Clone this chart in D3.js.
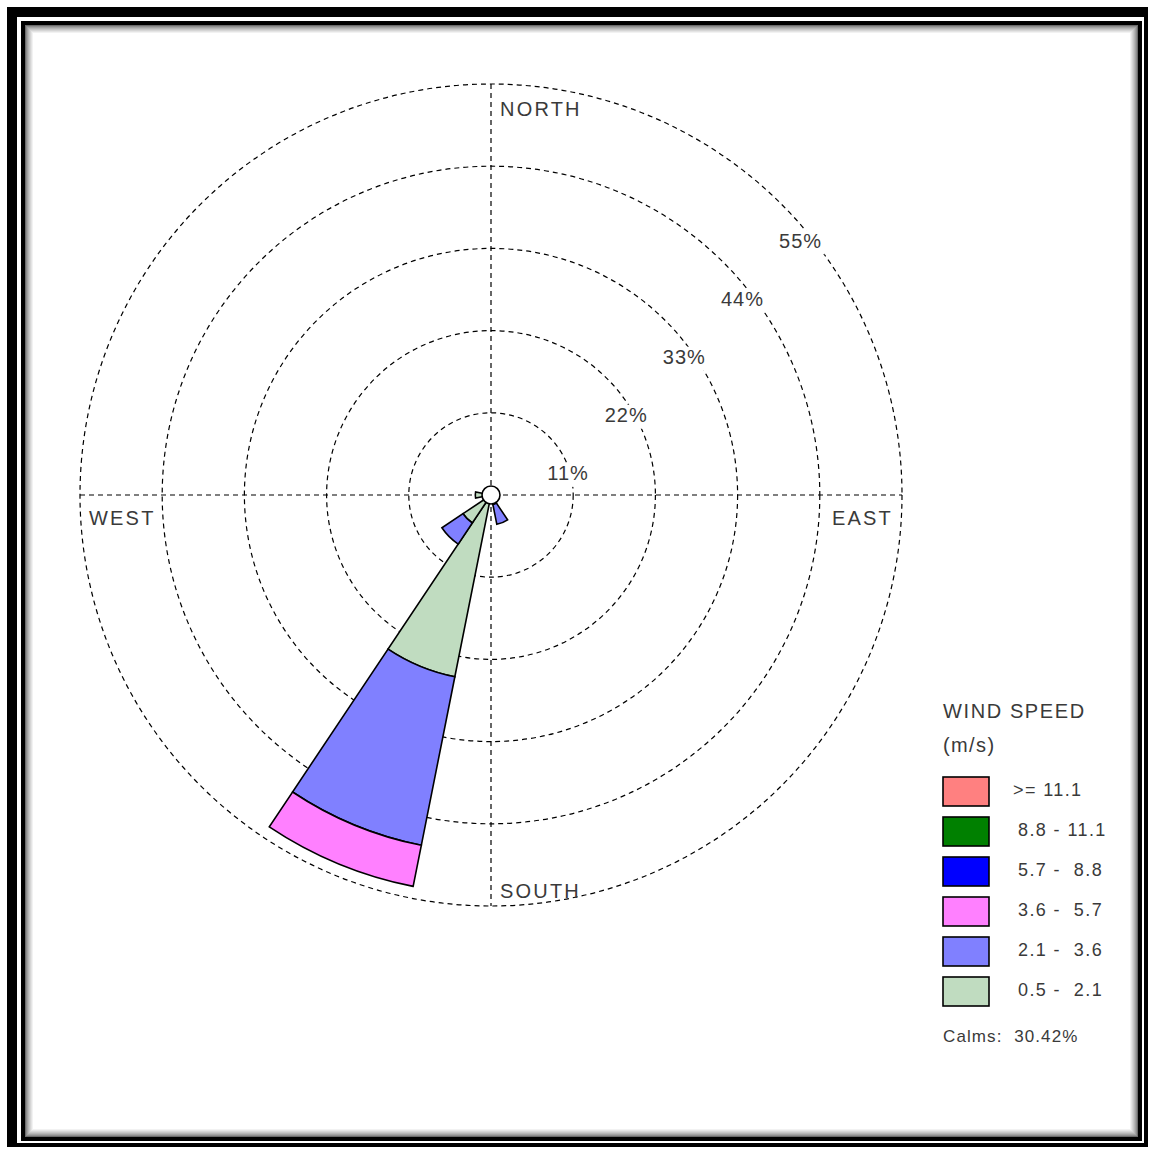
<!DOCTYPE html>
<html>
<head>
<meta charset="utf-8">
<script src="https://cdn.jsdelivr.net/npm/d3@7"></script>
<style>
  html, body { margin: 0; padding: 0; background: #fff; }
  svg { display: block; }
  text { font-family: "Liberation Sans", Arial, sans-serif; fill: #3a3a3a; }
</style>
</head>
<body>
<svg id="rose" width="1150" height="1151"></svg>
<script>
// 16 compass sectors, clockwise from north
const directions = ["N","NNE","NE","ENE","E","ESE","SE","SSE","S","SSW","SW","WSW","W","WNW","NW","NNW"];

// Frequency (%) per sector for each wind speed class
const freq05to21  = [0,0,0,0,0,0,0,1.3,0,24.8,4.5,0,2.1,0,0,0];
const freq21to36  = [0,0,0,0,0,0,0,2.7,0,23.0,3.4,0,0,0,0,0];
const freq36to57  = [0,0,0,0,0,0,0,0,0,5.6,0,0,0,0,0,0];
const freq57to88  = [0,0,0,0,0,0,0,0,0,0,0,0,0,0,0,0];
const freq88to111 = [0,0,0,0,0,0,0,0,0,0,0,0,0,0,0,0];
const freqGe111   = [0,0,0,0,0,0,0,0,0,0,0,0,0,0,0,0];

const speedLabels = [">= 11.1", "8.8 - 11.1", "5.7 -  8.8", "3.6 -  5.7", "2.1 -  3.6", "0.5 -  2.1"];
const speedColors = ["#ff8080", "#008000", "#0000ff", "#ff80ff", "#8080ff", "#c0dcc0"];
const ringTicks = [11, 22, 33, 44, 55];
const compassLabels = ["NORTH", "EAST", "SOUTH", "WEST"];
const calmsPct = 30.42;

const svg = d3.select("#rose");

// ---- frame: thick outer border, thin inner border, soft inner shadow ----
const frame = svg.append("g");
frame.append("rect").attr("x", 7).attr("y", 7).attr("width", 1141).attr("height", 1140).attr("fill", "#000");
frame.append("rect").attr("x", 17).attr("y", 17).attr("width", 1127).attr("height", 1126).attr("fill", "#fff");
frame.append("rect").attr("x", 21).attr("y", 21).attr("width", 1121).attr("height", 1120).attr("fill", "#000");
frame.append("rect").attr("x", 25).attr("y", 25).attr("width", 1113).attr("height", 1112).attr("fill", "#fff");
const shade = d3.range(9);
frame.selectAll("rect.shade").data(shade).join("rect")
  .attr("class", "shade")
  .attr("x", d => 25.5 + d).attr("y", d => 25.5 + d)
  .attr("width", d => 1112 - 2 * d).attr("height", d => 1111 - 2 * d)
  .attr("fill", "none")
  .attr("stroke", d => d3.interpolateRgb("#6a6a6a", "#ffffff")(Math.pow(d / 8, 0.7)))
  .attr("stroke-width", 1);

// ---- polar geometry ----
const cx = 491, cy = 495;
const r = d3.scaleLinear().domain([0, 55]).range([0, 411]);
const sector = 2 * Math.PI / directions.length;

const g = svg.append("g").attr("transform", `translate(${cx},${cy})`);

// dashed rings
g.selectAll("circle.ring").data(ringTicks).join("circle")
  .attr("class", "ring")
  .attr("r", d => r(d))
  .attr("fill", "none")
  .attr("stroke", "#000")
  .attr("stroke-width", 1.2)
  .attr("stroke-dasharray", "5,4");

// dashed cross hairs
const rmax = r(d3.max(ringTicks));
g.append("line").attr("x1", -rmax).attr("x2", rmax).attr("y1", 0).attr("y2", 0)
  .attr("stroke", "#000").attr("stroke-width", 1.2).attr("stroke-dasharray", "5,4");
g.append("line").attr("x1", 0).attr("x2", 0).attr("y1", -rmax).attr("y2", rmax)
  .attr("stroke", "#000").attr("stroke-width", 1.2).attr("stroke-dasharray", "5,4");

// ring percentage labels along the NE diagonal, on a white patch that breaks the ring
const diag = Math.SQRT1_2;
const ringLbl = g.selectAll("g.ringlbl").data(ringTicks).join("g")
  .attr("class", "ringlbl")
  .attr("transform", d => `translate(${r(d) * diag + 19},${-r(d) * diag + 38})`);
ringLbl.append("rect")
  .attr("x", -24).attr("y", -12).attr("width", 48).attr("height", 24)
  .attr("fill", "#fff");
ringLbl.append("text")
  .attr("text-anchor", "middle")
  .attr("dominant-baseline", "middle")
  .attr("font-size", 20)
  .attr("letter-spacing", 1)
  .text(d => d + "%");

// compass labels
const compassPos = {
  NORTH: { x: 9, y: -rmax + 32, anchor: "start" },
  EAST:  { x: rmax - 9, y: 30, anchor: "end" },
  SOUTH: { x: 9, y: rmax - 8, anchor: "start" },
  WEST:  { x: -rmax + 9, y: 30, anchor: "start" }
};
g.selectAll("text.compass").data(compassLabels).join("text")
  .attr("class", "compass")
  .attr("x", d => compassPos[d].x)
  .attr("y", d => compassPos[d].y)
  .attr("text-anchor", d => compassPos[d].anchor)
  .attr("font-size", 20)
  .attr("letter-spacing", 2.2)
  .text(d => d);

// ---- stacked petals ----
const seriesLowToHigh = [freq05to21, freq21to36, freq36to57, freq57to88, freq88to111, freqGe111];
const colorsLowToHigh = speedColors.slice().reverse();
const petals = [];
directions.forEach((dir, i) => {
  let cum = 0;
  seriesLowToHigh.forEach((s, k) => {
    const v = s[i];
    if (v > 0) {
      petals.push({ dir: i, inner: cum, outer: cum + v, color: colorsLowToHigh[k] });
      cum += v;
    }
  });
});
const arc = d3.arc()
  .innerRadius(d => r(d.inner))
  .outerRadius(d => r(d.outer))
  .startAngle(d => d.dir * sector - sector / 2)
  .endAngle(d => d.dir * sector + sector / 2);
g.selectAll("path.petal").data(petals).join("path")
  .attr("class", "petal")
  .attr("d", arc)
  .attr("fill", d => d.color)
  .attr("stroke", "#000")
  .attr("stroke-width", 1.6)
  .attr("stroke-linejoin", "miter");

// calm circle
g.append("circle").attr("r", 9).attr("fill", "#fff").attr("stroke", "#000").attr("stroke-width", 1.6);

// ---- legend ----
const lg = svg.append("g").attr("transform", "translate(943,0)");
lg.append("text").attr("x", 0).attr("y", 718).attr("font-size", 20).attr("letter-spacing", 1.6).text("WIND SPEED");
lg.append("text").attr("x", 0).attr("y", 752).attr("font-size", 20).attr("letter-spacing", 1.4).text("(m/s)");
const ly = d3.scaleBand().domain(speedLabels).range([777, 1006]).paddingInner(0.275);
lg.selectAll("rect.sw").data(speedLabels).join("rect")
  .attr("class", "sw")
  .attr("x", 0).attr("y", d => ly(d))
  .attr("width", 46).attr("height", ly.bandwidth())
  .attr("fill", (d, i) => speedColors[i])
  .attr("stroke", "#000").attr("stroke-width", 1.6);
lg.selectAll("text.swl").data(speedLabels).join("text")
  .attr("class", "swl")
  .attr("x", (d, i) => i === 0 ? 70 : 75)
  .attr("y", d => ly(d) + ly.bandwidth() / 2)
  .attr("dominant-baseline", "middle")
  .attr("font-size", 18)
  .attr("letter-spacing", 1.4)
  .style("white-space", "pre")
  .text(d => d);
lg.append("text").attr("x", 0).attr("y", 1042).attr("font-size", 17).attr("letter-spacing", 1.1)
  .style("white-space", "pre")
  .text("Calms:  " + calmsPct.toFixed(2) + "%");
</script>
</body>
</html>
